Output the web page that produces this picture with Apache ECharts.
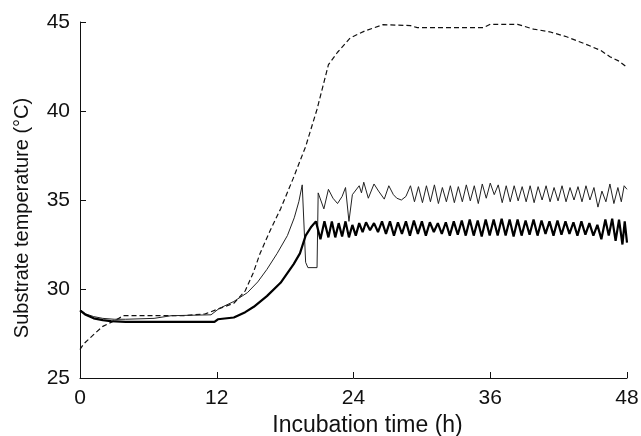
<!DOCTYPE html>
<html>
<head>
<meta charset="utf-8">
<script src="https://cdn.jsdelivr.net/npm/echarts@6/dist/echarts.min.js"></script>
<style>
html,body{margin:0;padding:0;background:#fff;}
#c{width:641px;height:436px;}
</style>
</head>
<body>
<div id="c"></div>
<script>
// x-axis ticks (h) and y-axis ticks (°C)
const xTicks = [0, 12, 24, 36, 48];
const yTicks = [25, 30, 35, 40, 45];

// Dashed series
const dashedTime = [0,0.3,0.8,1.3,2.0,2.8,3.4,3.8,6,9,11,12,13.5,14.5,15.2,15.8,16.7,17.6,18.7,19.8,20.8,21.8,22.6,23.7,25.0,26.6,29.0,29.6,35.4,36.0,38.4,39.8,41.2,42.7,44.2,45.7,46.5,47.3,47.9];
const dashedTemp = [26.6,26.9,27.2,27.5,27.9,28.15,28.35,28.5,28.5,28.5,28.6,28.85,29.2,29.9,30.9,32.0,33.3,34.5,36.2,38.0,40.1,42.6,43.3,44.1,44.5,44.85,44.8,44.68,44.68,44.87,44.87,44.6,44.45,44.17,43.8,43.4,43.05,42.8,42.5];

// Thin solid series
const thinTime = [0,0.5,1.2,2.0,3.0,4.0,6.5,8.0,11.5,12.2,13.5,14.7,15.6,16.4,17.3,18.2,18.8,19.2,19.5,19.8,20.0,20.8,20.9,21.4,21.8,22.2,22.6,23.0,23.3,23.6,23.9,24.5,24.7,24.9,25.3,25.8,26.2,26.7,27.1,27.5,27.8,28.2,28.6,
29.0,29.35,29.7,30.05,30.4,30.75,31.1,31.45,31.8,32.15,32.5,32.85,33.2,33.55,33.9,34.25,34.6,34.95,35.3,35.65,36.0,36.35,36.7,37.05,37.4,37.75,38.1,38.45,38.8,39.15,39.5,39.85,40.2,40.55,40.9,41.25,41.6,41.95,42.3,42.65,43.0,43.35,43.7,44.05,44.4,44.75,45.1,45.45,45.8,46.15,46.5,46.85,47.2,47.5,47.75,48.0];
const thinTemp = [28.85,28.6,28.45,28.35,28.3,28.3,28.35,28.5,28.55,28.9,29.3,29.8,30.4,31.1,32.0,33.0,34.0,34.9,35.85,31.5,31.2,31.2,35.4,34.5,35.6,35.1,34.8,35.2,35.7,33.8,35.3,35.8,35.4,36.0,35.1,35.9,35.5,35.05,35.8,35.3,35.1,35.0,35.2,
35.8,34.9,35.75,34.85,35.8,34.9,35.85,34.8,35.7,34.9,35.8,34.85,35.75,34.9,35.85,34.95,35.8,34.8,35.9,35.1,35.95,35.3,35.85,34.85,35.8,34.9,35.8,34.95,35.75,34.9,35.8,34.85,35.75,35.0,35.8,34.9,35.7,34.95,35.8,34.9,35.7,35.0,35.75,34.9,35.8,35.0,35.7,34.6,35.5,34.9,35.9,34.8,35.7,34.9,35.8,35.6];

// Thick solid series
const thickTime = [0,0.5,1.2,2.0,2.7,4.0,8.0,11.8,12.1,13.5,14.5,15.25,16.4,17.6,18.75,19.3,19.8,20.3,20.7,
21.1,21.45,21.8,22.1,22.4,22.7,23.0,23.3,23.6,23.9,24.2,24.5,24.8,25.1,25.45,25.8,26.15,26.5,26.85,27.2,27.55,27.9,28.25,28.6,28.95,29.3,29.65,30.0,30.35,30.7,31.05,31.4,31.75,32.1,32.45,32.8,33.15,33.5,33.85,34.2,34.55,34.9,35.25,35.6,35.95,36.3,36.65,37.0,37.35,37.7,38.05,38.4,38.75,39.1,39.45,39.8,40.15,40.5,40.85,41.2,41.55,41.9,42.25,42.6,42.95,43.3,43.65,44.0,44.35,44.7,45.05,45.4,45.75,46.1,46.4,46.7,47.0,47.3,47.6,47.8,48.0];
const thickTemp = [28.8,28.55,28.35,28.25,28.2,28.15,28.15,28.15,28.3,28.4,28.7,29.0,29.6,30.35,31.4,32.0,33.0,33.5,33.8,
32.8,33.8,32.9,33.8,32.9,33.7,32.95,33.8,32.9,33.6,33.0,33.7,33.2,33.75,33.3,33.7,33.2,33.8,33.1,33.8,33.0,33.75,33.1,33.8,33.0,33.85,33.1,33.8,33.0,33.75,33.2,33.7,33.1,33.75,33.0,33.8,33.05,33.85,33.0,33.9,33.0,33.85,32.95,33.9,33.0,33.9,33.0,33.95,33.0,33.9,32.95,33.9,33.0,33.85,33.05,33.9,33.0,33.85,33.1,33.8,33.0,33.85,33.05,33.8,33.1,33.75,33.0,33.8,33.05,33.7,33.0,33.6,32.8,33.9,33.0,33.95,32.7,33.9,32.5,33.8,32.6];

function pairs(t, v){ return t.map((x,i)=>[x, v[i]]); }

const chart = echarts.init(document.getElementById('c'), null, {renderer:'canvas'});
const font = 'Liberation Sans, Arial, Helvetica, sans-serif';
chart.setOption({
  animation:false,
  backgroundColor:'#fff',
  grid:{left:80, right:14, top:22, bottom:58, containLabel:false, outerBoundsMode:'none'},
  xAxis:{
    type:'value', min:xTicks[0], max:xTicks[xTicks.length-1], interval:12,
    name:'Incubation time (h)', nameLocation:'middle', nameGap:26,
    nameTextStyle:{fontFamily:font, fontSize:23, color:'#111', padding:[0,0,0,28]},
    axisLine:{show:true, lineStyle:{color:'#111', width:1}},
    axisTick:{show:true, inside:true, length:6, lineStyle:{color:'#111'}},
    axisLabel:{fontFamily:font, fontSize:21, color:'#111', margin:10},
    splitLine:{show:false}
  },
  yAxis:{
    type:'value', min:yTicks[0], max:yTicks[yTicks.length-1], interval:5,
    name:'Substrate temperature (°C)', nameLocation:'middle', nameGap:48,
    nameTextStyle:{fontFamily:font, fontSize:20, color:'#111', padding:[0,36,0,0]},
    axisLine:{show:true, lineStyle:{color:'#111', width:1}},
    axisTick:{show:true, inside:true, length:6, lineStyle:{color:'#111'}},
    axisLabel:{fontFamily:font, fontSize:21, color:'#111', margin:10},
    splitLine:{show:false}
  },
  series:[
    {type:'line', data:pairs(dashedTime, dashedTemp), showSymbol:false, smooth:false,
     lineStyle:{color:'#111', width:1.2, type:[5,3]}},
    {type:'line', data:pairs(thinTime, thinTemp), showSymbol:false,
     lineStyle:{color:'#222', width:1}},
    {type:'line', data:pairs(thickTime, thickTemp), showSymbol:false,
     lineStyle:{color:'#000', width:2.2}}
  ]
});
</script>
</body>
</html>
